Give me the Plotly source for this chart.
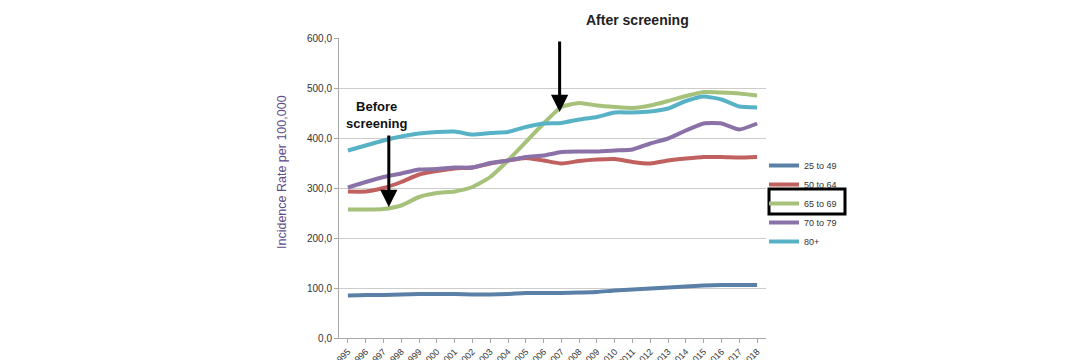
import plotly.graph_objects as go

years = [str(y) for y in range(1995, 2019)]
series_names = ["25 to 49", "50 to 64", "65 to 69", "70 to 79", "80+"]
s_25_49 = [85, 86, 86, 87, 88, 88, 88, 87, 87, 88, 90, 90, 90, 91, 92, 95, 97, 99, 101, 103, 105, 106, 106, 106]
s_50_64 = [293, 293, 300, 312, 327, 334, 339, 341, 349, 355, 360, 355, 349, 354, 357, 358, 352, 349, 355, 359, 362, 362, 361, 362]
s_65_69 = [257, 257, 258, 265, 282, 290, 293, 302, 322, 355, 392, 429, 462, 470, 465, 462, 460, 465, 474, 484, 492, 491, 489, 485]
s_70_79 = [301, 312, 322, 329, 337, 338, 341, 341, 350, 355, 362, 365, 372, 373, 373, 375, 377, 389, 399, 415, 429, 429, 417, 429]
s_80p = [375, 385, 395, 403, 409, 412, 413, 407, 410, 412, 422, 429, 430, 437, 442, 451, 451, 453, 459, 474, 483, 477, 463, 461]
colors = ["#5b80a8", "#c0605f", "#a6c27a", "#8a72a8", "#58b2c6"]
y_ticks = [0, 100, 200, 300, 400, 500, 600]
y_tick_text = ["0,0", "100,0", "200,0", "300,0", "400,0", "500,0", "600,0"]

FONT = "Liberation Sans, Arial, sans-serif"

# page body has an 8px margin; plot area should be x 339..766, y 38..338 on screen
L, T, PW, PH = 331, 30, 427, 300

def px(xs):
    return (xs - 8 - L) / PW

def py(ys):
    return 1 - (ys - 8 - T) / PH

fig = go.Figure()
for name, vals, col in zip(series_names, [s_25_49, s_50_64, s_65_69, s_70_79, s_80p], colors):
    fig.add_trace(go.Scatter(x=years, y=vals, name=name, mode="lines",
                             line=dict(color=col, width=4, shape="spline", smoothing=0.5)))

fig.update_layout(
    width=1080, height=360,
    margin=dict(l=L, r=1080 - L - PW, t=T, b=360 - T - PH),
    paper_bgcolor="white", plot_bgcolor="white",
    font=dict(family=FONT, size=10, color="#333333"),
    showlegend=True,
    legend=dict(x=px(764), y=py(151), xanchor="left", yanchor="top",
                font=dict(size=9, color="#333333"), bgcolor="rgba(0,0,0,0)",
                tracegroupgap=0),
)
fig.update_xaxes(type="category", range=[-0.5, 23.5], tickangle=-45,
                 showgrid=False, showline=True, linecolor="#a8a8a8", linewidth=1,
                 ticks="outside", ticklen=4, tickcolor="#a8a8a8",
                 tickfont=dict(size=9, color="#333333"), automargin=False)
fig.update_yaxes(range=[0, 600], tickvals=y_ticks, ticktext=y_tick_text,
                 showgrid=True, gridcolor="#cccccc", gridwidth=1,
                 showline=True, linecolor="#a8a8a8", linewidth=1,
                 ticks="outside", ticklen=4, tickcolor="#a8a8a8",
                 tickfont=dict(size=10, color="#333333"), automargin=False, zeroline=False)

# Y axis title
fig.add_annotation(text="Incidence Rate per 100,000", textangle=-90,
                   xref="paper", yref="paper", x=px(282), y=py(172),
                   xanchor="center", yanchor="middle", showarrow=False,
                   font=dict(size=12.5, color="#5e4a8c", family=FONT))

# After screening
fig.add_annotation(text="<b>After screening</b>", xref="paper", yref="paper",
                   x=px(637), y=py(20), xanchor="center", yanchor="middle", showarrow=False,
                   font=dict(size=14, color="#222222", family=FONT))
fig.add_annotation(x=11.9, y=452, xref="x", yref="y", text="", showarrow=True,
                   ax=0, ay=-72, arrowhead=2, arrowsize=1.15, arrowwidth=3, arrowcolor="black")

# Before screening
fig.add_annotation(text="<b>Before<br>screening</b>", xref="paper", yref="paper",
                   x=px(376), y=py(115), xanchor="center", yanchor="middle", showarrow=False,
                   font=dict(size=13, color="#111111", family=FONT))
fig.add_annotation(x=2.3, y=262, xref="x", yref="y", text="", showarrow=True,
                   ax=0, ay=-73, arrowhead=2, arrowsize=1.15, arrowwidth=3, arrowcolor="black")

# Highlight box around legend item "65 to 69"
fig.add_shape(type="rect", xref="paper", yref="paper",
              x0=px(769), x1=px(845), y0=py(214), y1=py(189),
              line=dict(color="black", width=3))

fig.write_html("out.html")
